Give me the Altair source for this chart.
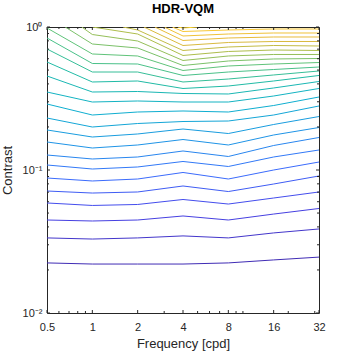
import altair as alt
import pandas as pd

# ---------------- data ----------------
freqs = [0.5, 1, 2, 4, 8, 16, 32]

line_names = ["A", "B", "C", "D", "E", "F", "G", "H", "I", "J", "K", "L", "M",
              "N", "O", "P", "Q", "R", "S", "T", "U", "V", "W", "X", "Y", "Z", "AA"]

c_A = [0.0224, 0.0220, 0.0220, 0.0220, 0.0224, 0.0235, 0.0246]
c_B = [0.0335, 0.0329, 0.0335, 0.0346, 0.0335, 0.0363, 0.0387]
c_C = [0.0447, 0.0440, 0.0447, 0.0477, 0.0447, 0.0492, 0.0538]
c_D = [0.0588, 0.0565, 0.0574, 0.0622, 0.0578, 0.0637, 0.0702]
c_E = [0.0713, 0.0690, 0.0702, 0.0773, 0.0707, 0.0798, 0.0908]
c_F = [0.0879, 0.0838, 0.0865, 0.0961, 0.0865, 0.1000, 0.1137]
c_G = [0.1084, 0.1016, 0.1050, 0.1147, 0.1058, 0.1233, 0.1380]
c_H = [0.1273, 0.1194, 0.1233, 0.1358, 0.1243, 0.1484, 0.1688]
c_I = [0.1570, 0.1425, 0.1496, 0.1634, 0.1496, 0.1757, 0.1982]
c_J = [0.1905, 0.1701, 0.1786, 0.1935, 0.1799, 0.2081, 0.2366]
c_K = [0.2310, 0.1998, 0.2114, 0.2183, 0.2201, 0.2424, 0.2803]
c_L = [0.2894, 0.2424, 0.2544, 0.2586, 0.2544, 0.2825, 0.3239]
c_M = [0.3511, 0.2989, 0.3038, 0.2989, 0.2989, 0.3292, 0.3715]
c_N = [0.4544, 0.3511, 0.3540, 0.3428, 0.3400, 0.3746, 0.4159]
c_O = [0.5692, 0.4125, 0.4192, 0.3715, 0.3867, 0.4192, 0.4581]
c_P = [0.7017, 0.4845, 0.4845, 0.4125, 0.4327, 0.4618, 0.4924]
c_Q = [0.8377, 0.5556, 0.5511, 0.4581, 0.4845, 0.5044, 0.5251]
c_R = [0.9840, 0.6476, 0.6270, 0.4964, 0.5337, 0.5511, 0.5646]
c_S = [None, 0.7606, 0.7130, 0.5380, 0.5785, 0.5975, 0.6023]
c_T = [None, 0.8862, 0.7981, 0.5832, 0.6270, 0.6424, 0.6424]
c_U = [None, None, 0.8934, 0.6322, 0.6741, 0.6906, 0.6850]
c_V = [None, None, 0.9529, 0.6850, 0.7247, 0.7424, 0.7365]
c_W = [None, None, None, 0.7424, 0.7792, 0.7918, 0.7918]
c_X = [None, None, None, 0.8047, 0.8377, 0.8513, 0.8513]
c_Y = [None, None, None, 0.8652, 0.8934, 0.9080, 0.9080]
c_Z = [None, None, None, 0.9301, 0.9529, 0.9683, 0.9683]
c_AA = [None, None, None, 0.9840, None, None, None]

line_values = [c_A, c_B, c_C, c_D, c_E, c_F, c_G, c_H, c_I, c_J, c_K, c_L, c_M,
               c_N, c_O, c_P, c_Q, c_R, c_S, c_T, c_U, c_V, c_W, c_X, c_Y, c_Z, c_AA]

# frequencies where a contour meets the top edge (contrast = 1)
top_edge_freqs = {"S": [0.66], "T": [0.85], "U": [1.0], "V": [1.6], "W": [2.2],
                  "X": [2.6], "Y": [3.0], "Z": [3.4], "AA": [3.7, 5.0]}

x_major = [0.5, 1, 2, 4, 8, 16, 32]
x_minor = [0.6, 0.7, 0.8, 0.9, 3, 5, 6, 7, 9, 10, 20, 30]
y_major = [0.01, 0.1, 1]
y_minor = [0.02, 0.03, 0.04, 0.05, 0.06, 0.07, 0.08, 0.09,
           0.2, 0.3, 0.4, 0.5, 0.6, 0.7, 0.8, 0.9]

# ---------------- styling ----------------
W, H = 272, 286
FONT = "Liberation Sans"
AX = "#262626"
parula = ["#3e26a8", "#4743e8", "#3a6efd", "#1e95e6", "#0faed0", "#1ebba8",
          "#5ac37e", "#a6be4e", "#e4b93c", "#fccb36", "#f9fb15"]


def cmap(t):
    rgb = [tuple(int(h[k:k + 2], 16) for k in (1, 3, 5)) for h in parula]
    t = min(max(t, 0.0), 1.0) * (len(rgb) - 1)
    i = min(int(t), len(rgb) - 2)
    f = t - i
    c = [rgb[i][k] + (rgb[i + 1][k] - rgb[i][k]) * f for k in range(3)]
    return "#%02x%02x%02x" % tuple(int(round(v)) for v in c)


n = len(line_names)
line_colors = [cmap(0.02 + 0.9 * i / (n - 1)) for i in range(n)]

rows = []
for name, vals in zip(line_names, line_values):
    pts = [(f, c) for f, c in zip(freqs, vals) if c is not None]
    pts += [(f, 1.0) for f in top_edge_freqs.get(name, [])]
    pts.sort()
    for f, c in pts:
        rows.append({"line": name, "freq": f, "contrast": c})
df = pd.DataFrame(rows)

xscale = alt.Scale(type="log", domain=[0.5, 32], nice=False)
yscale = alt.Scale(type="log", domain=[0.01, 1], nice=False)

x_axis = alt.Axis(values=x_major, ticks=False, tickSize=0, domain=False, grid=False,
                  labelFlush=False, labelOverlap=False,
                  labelExpr="format(datum.value, '~g')",
                  labelFontSize=11, labelFont=FONT, labelColor=AX, labelPadding=8,
                  title="Frequency [cpd]", titleFont=FONT, titleFontSize=13,
                  titleFontWeight="normal", titleColor=AX, titlePadding=5)
y_axis = alt.Axis(values=y_major, ticks=False, tickSize=0, domain=False, grid=False,
                  labelFlush=False, labelOverlap=False,
                  labelExpr="datum.value == 1 ? '10⁰' : (datum.value == 0.1 ? '10⁻¹' : '10⁻²')",
                  labelFontSize=11, labelFont=FONT, labelColor=AX, labelPadding=5,
                  title="Contrast", titleFont=FONT, titleFontSize=13,
                  titleFontWeight="normal", titleColor=AX, titlePadding=8)

lines = alt.Chart(df).mark_line(strokeWidth=1, clip=True).encode(
    x=alt.X("freq:Q", scale=xscale, axis=x_axis),
    y=alt.Y("contrast:Q", scale=yscale, axis=y_axis),
    color=alt.Color("line:N", scale=alt.Scale(domain=line_names, range=line_colors), legend=None),
    order=alt.Order("freq:Q"),
)

xt_major = pd.DataFrame({"freq": x_major})
xt_minor = pd.DataFrame({"freq": x_minor})
yt_major = pd.DataFrame({"contrast": y_major})
yt_minor = pd.DataFrame({"contrast": y_minor})


def xticks(data, length):
    base = alt.Chart(data).mark_rule(color=AX, strokeWidth=1)
    xx = alt.X("freq:Q", scale=xscale, axis=x_axis)
    return (base.encode(x=xx, y=alt.value(H), y2=alt.value(H - length)) +
            base.encode(x=xx, y=alt.value(0), y2=alt.value(length)))


def yticks(data, length):
    base = alt.Chart(data).mark_rule(color=AX, strokeWidth=1)
    yy = alt.Y("contrast:Q", scale=yscale, axis=y_axis)
    return (base.encode(y=yy, x=alt.value(0), x2=alt.value(length)) +
            base.encode(y=yy, x=alt.value(W), x2=alt.value(W - length)))


chart = alt.layer(
    lines,
    xticks(xt_major, 3), xticks(xt_minor, 2),
    yticks(yt_major, 3), yticks(yt_minor, 2),
).properties(
    width=W, height=H,
    autosize="none",
    background="white",
    padding={"left": 47, "top": 27, "right": 354 - 47 - W, "bottom": 354 - 27 - H},
    title=alt.TitleParams("HDR-VQM", font=FONT, fontSize=13, fontWeight="bold",
                          color="#000000", offset=5, anchor="middle"),
).configure_view(stroke=AX, strokeWidth=1)

chart.save("out.html", embed_options={"renderer": "svg", "actions": False})
